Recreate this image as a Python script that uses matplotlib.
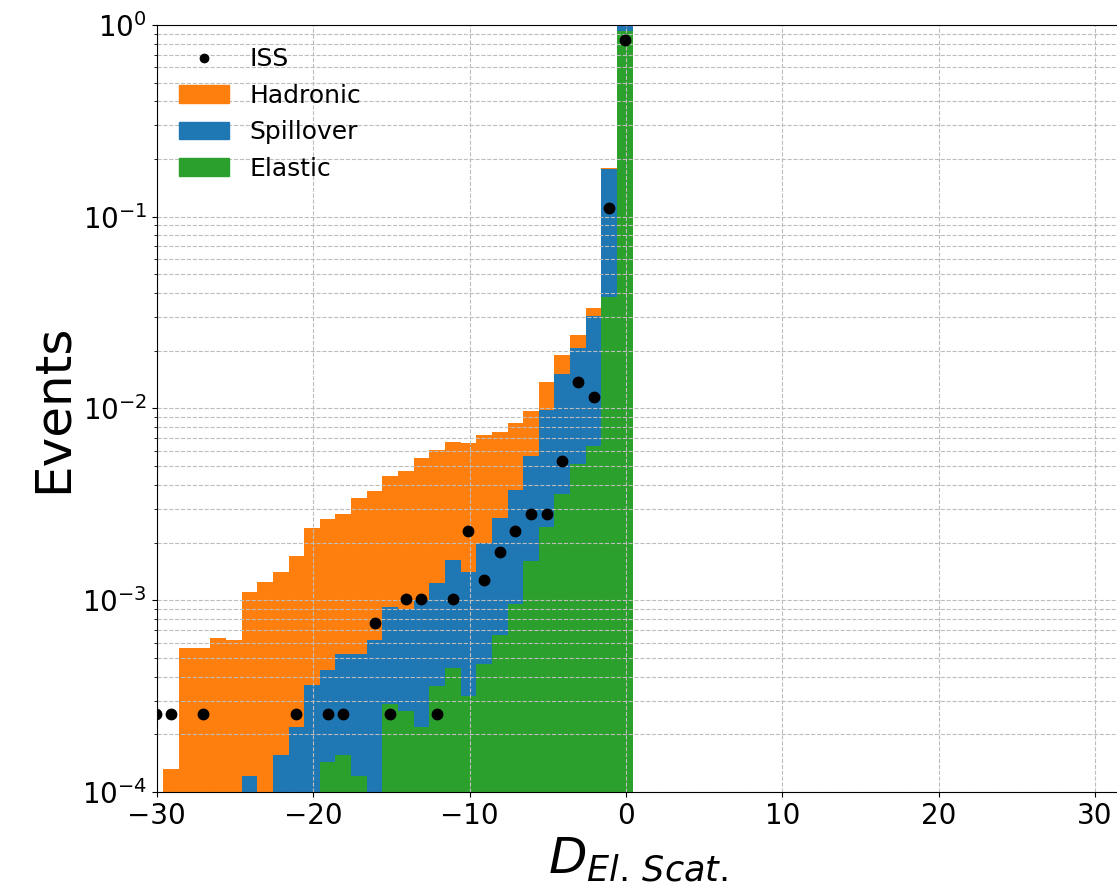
import numpy as np
import matplotlib
matplotlib.use("Agg")
import matplotlib.pyplot as plt
from matplotlib.patches import Patch
from matplotlib.lines import Line2D

# bins of width 1, left edges from -30.57 up to 0.43
bin_edges = np.arange(-30.57, 0.5, 1.0)
bin_centers = 0.5 * (bin_edges[:-1] + bin_edges[1:])

# fraction of events per bin, bins -30 ... 0
elastic = [0, 0, 0, 0, 0, 0, 0, 0, 0, 0, 0,
           1.44e-4, 1.55e-4, 1.21e-4, 0, 2.89e-4, 2.65e-4, 2.19e-4, 3.58e-4, 4.45e-4, 3.15e-4,
           4.63e-4, 6.56e-4, 9.53e-4, 1.61e-3, 2.42e-3, 3.56e-3, 5.13e-3, 6.41e-3, 3.83e-2, 0.934]
spillover = [0, 0, 0, 0, 0, 0, 1.21e-4, 0, 1.56e-4, 2.17e-4, 3.60e-4,
             2.89e-4, 3.72e-4, 4.06e-4, 6.20e-4, 6.36e-4, 6.30e-4, 7.81e-4, 8.72e-4, 1.175e-3, 1.085e-3,
             1.517e-3, 2.044e-3, 2.797e-3, 4.05e-3, 7.42e-3, 1.164e-2, 1.547e-2, 2.409e-2, 0.1391, 0.106]
hadronic = [0, 1.32e-4, 5.64e-4, 5.64e-4, 6.36e-4, 6.18e-4, 9.79e-4, 1.24e-3, 1.254e-3, 1.483e-3, 2.01e-3,
            2.207e-3, 2.273e-3, 2.903e-3, 3.09e-3, 3.535e-3, 3.845e-3, 4.52e-3, 4.87e-3, 5.08e-3, 5.20e-3,
            5.32e-3, 4.82e-3, 4.68e-3, 4.09e-3, 3.86e-3, 3.9e-3, 3.5e-3, 3.0e-3, 2.1e-3, 0.01]
nan = np.nan
iss = [2.54e-4, 2.54e-4, nan, 2.54e-4, nan, nan, nan, nan, nan, 2.54e-4, nan,
       2.54e-4, 2.54e-4, nan, 7.63e-4, 2.54e-4, 1.02e-3, 1.02e-3, 2.54e-4, 1.02e-3, 2.29e-3,
       1.27e-3, 1.78e-3, 2.29e-3, 2.80e-3, 2.80e-3, 5.35e-3, 1.38e-2, 1.15e-2, 0.1115, 0.835]

c_had = "#ff7f0e"
c_spill = "#1f77b4"
c_el = "#2ca02c"

fig = plt.figure(figsize=(11.17, 8.94), dpi=100)
ax = fig.add_axes([0.1403, 0.1141, 0.8611, 0.858])

ax.hist([bin_centers] * 3, bins=bin_edges, weights=[elastic, spillover, hadronic],
        stacked=True, histtype="bar", color=[c_el, c_spill, c_had])
ax.plot(bin_centers, iss, "o", color="k", ms=7.5, ls="none")

ax.set_yscale("log")
ax.set_ylim(1e-4, 1)
ax.set_xlim(-30, 31.5)
ax.set_xticks([-30, -20, -10, 0, 10, 20, 30])
ax.grid(True, which="both", ls="--", lw=0.8, color="#bdbdbd")
ax.tick_params(labelsize=20)

ax.set_ylabel("Events", fontsize=36)
ax.set_xlabel(r"$D_{El.\,Scat.}$", fontsize=36)

handles = [Line2D([], [], marker="o", color="k", ls="none", ms=6),
           Patch(color=c_had), Patch(color=c_spill), Patch(color=c_el)]
labels = ["ISS", "Hadronic", "Spillover", "Elastic"]
ax.legend(handles, labels, loc="upper left", fontsize=18, frameon=False)

fig.savefig("out.png", dpi=100)
